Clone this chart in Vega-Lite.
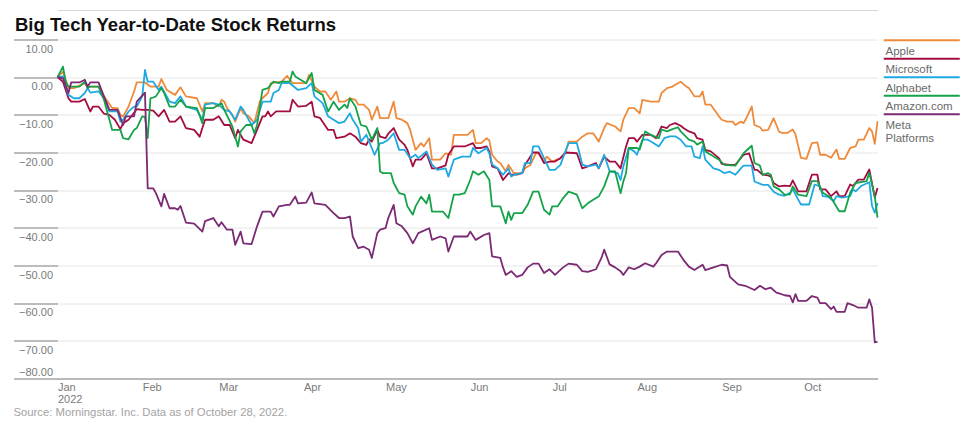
{
"$schema":"https://vega.github.io/schema/vega-lite/v6.json",
"width":820,"height":339,
"autosize":{"type":"none"},
"padding":{"left":57.5,"top":39.5,"right":98.5,"bottom":46.5},
"title":{"text":"Big Tech Year-to-Date Stock Returns","anchor":"start","frame":"group","dx":-42.5,"offset":-39,"font":"Liberation Sans","fontSize":18.5,"fontWeight":"bold","color":"#111111","baseline":"alphabetic"},
"config":{"view":{"stroke":null},"font":"Liberation Sans"},
"data":{"values":[
{"company":"Apple","date":"2022-01-01","ret":0},{"company":"Apple","date":"2022-01-03","ret":1.5},{"company":"Apple","date":"2022-01-05","ret":-2.9},{"company":"Apple","date":"2022-01-07","ret":-2.9},{"company":"Apple","date":"2022-01-11","ret":-1.6},{"company":"Apple","date":"2022-01-12","ret":-2.5},{"company":"Apple","date":"2022-01-16","ret":-2.5},{"company":"Apple","date":"2022-01-18","ret":-5.1},{"company":"Apple","date":"2022-01-21","ret":-8.2},{"company":"Apple","date":"2022-01-23","ret":-8.2},{"company":"Apple","date":"2022-01-24","ret":-10},{"company":"Apple","date":"2022-01-25","ret":-10.4},{"company":"Apple","date":"2022-01-27","ret":-7.8},{"company":"Apple","date":"2022-01-29","ret":-3.8},{"company":"Apple","date":"2022-01-30","ret":-1.4},{"company":"Apple","date":"2022-02-02","ret":-1.4},{"company":"Apple","date":"2022-02-04","ret":-2.5},{"company":"Apple","date":"2022-02-07","ret":-2.5},{"company":"Apple","date":"2022-02-08","ret":-0.5},{"company":"Apple","date":"2022-02-10","ret":-3.4},{"company":"Apple","date":"2022-02-13","ret":-4.7},{"company":"Apple","date":"2022-02-15","ret":-2.7},{"company":"Apple","date":"2022-02-17","ret":-5.1},{"company":"Apple","date":"2022-02-21","ret":-5.6},{"company":"Apple","date":"2022-02-23","ret":-9.1},{"company":"Apple","date":"2022-02-24","ret":-6.9},{"company":"Apple","date":"2022-02-27","ret":-6.9},{"company":"Apple","date":"2022-03-01","ret":-7.8},{"company":"Apple","date":"2022-03-02","ret":-6},{"company":"Apple","date":"2022-03-03","ret":-6.5},{"company":"Apple","date":"2022-03-04","ret":-8.2},{"company":"Apple","date":"2022-03-06","ret":-10},{"company":"Apple","date":"2022-03-07","ret":-11.8},{"company":"Apple","date":"2022-03-09","ret":-8.2},{"company":"Apple","date":"2022-03-10","ret":-9.6},{"company":"Apple","date":"2022-03-12","ret":-10.4},{"company":"Apple","date":"2022-03-14","ret":-12.2},{"company":"Apple","date":"2022-03-16","ret":-6.5},{"company":"Apple","date":"2022-03-17","ret":-5.6},{"company":"Apple","date":"2022-03-19","ret":-4.2},{"company":"Apple","date":"2022-03-20","ret":-1.6},{"company":"Apple","date":"2022-03-22","ret":-1.4},{"company":"Apple","date":"2022-03-24","ret":-1.2},{"company":"Apple","date":"2022-03-26","ret":0.35},{"company":"Apple","date":"2022-03-28","ret":-1.6},{"company":"Apple","date":"2022-04-02","ret":-1.6},{"company":"Apple","date":"2022-04-03","ret":0.6},{"company":"Apple","date":"2022-04-05","ret":-2.5},{"company":"Apple","date":"2022-04-07","ret":-3.8},{"company":"Apple","date":"2022-04-09","ret":-3.8},{"company":"Apple","date":"2022-04-11","ret":-6},{"company":"Apple","date":"2022-04-13","ret":-3.8},{"company":"Apple","date":"2022-04-14","ret":-6.5},{"company":"Apple","date":"2022-04-16","ret":-6.5},{"company":"Apple","date":"2022-04-18","ret":-5.6},{"company":"Apple","date":"2022-04-20","ret":-6},{"company":"Apple","date":"2022-04-21","ret":-7.3},{"company":"Apple","date":"2022-04-23","ret":-7.3},{"company":"Apple","date":"2022-04-25","ret":-8.7},{"company":"Apple","date":"2022-04-26","ret":-11.3},{"company":"Apple","date":"2022-04-28","ret":-7.8},{"company":"Apple","date":"2022-04-29","ret":-10.9},{"company":"Apple","date":"2022-05-02","ret":-10.9},{"company":"Apple","date":"2022-05-04","ret":-6.5},{"company":"Apple","date":"2022-05-05","ret":-10.9},{"company":"Apple","date":"2022-05-07","ret":-11.3},{"company":"Apple","date":"2022-05-09","ret":-12.2},{"company":"Apple","date":"2022-05-10","ret":-14},{"company":"Apple","date":"2022-05-12","ret":-19.3},{"company":"Apple","date":"2022-05-14","ret":-17.5},{"company":"Apple","date":"2022-05-15","ret":-18.4},{"company":"Apple","date":"2022-05-17","ret":-16.2},{"company":"Apple","date":"2022-05-18","ret":-21.9},{"company":"Apple","date":"2022-05-21","ret":-21.9},{"company":"Apple","date":"2022-05-23","ret":-20.2},{"company":"Apple","date":"2022-05-25","ret":-20.6},{"company":"Apple","date":"2022-05-26","ret":-15.3},{"company":"Apple","date":"2022-05-31","ret":-15.3},{"company":"Apple","date":"2022-06-02","ret":-14},{"company":"Apple","date":"2022-06-03","ret":-17.5},{"company":"Apple","date":"2022-06-05","ret":-17.5},{"company":"Apple","date":"2022-06-07","ret":-16.2},{"company":"Apple","date":"2022-06-08","ret":-16.8},{"company":"Apple","date":"2022-06-09","ret":-20.6},{"company":"Apple","date":"2022-06-11","ret":-22.4},{"company":"Apple","date":"2022-06-12","ret":-22.8},{"company":"Apple","date":"2022-06-14","ret":-25},{"company":"Apple","date":"2022-06-15","ret":-23.3},{"company":"Apple","date":"2022-06-17","ret":-25.5},{"company":"Apple","date":"2022-06-20","ret":-25.5},{"company":"Apple","date":"2022-06-21","ret":-24.2},{"company":"Apple","date":"2022-06-23","ret":-23.3},{"company":"Apple","date":"2022-06-25","ret":-20.2},{"company":"Apple","date":"2022-06-26","ret":-20.2},{"company":"Apple","date":"2022-06-28","ret":-22.4},{"company":"Apple","date":"2022-06-29","ret":-21.1},{"company":"Apple","date":"2022-07-01","ret":-22.4},{"company":"Apple","date":"2022-07-04","ret":-21.5},{"company":"Apple","date":"2022-07-06","ret":-19.7},{"company":"Apple","date":"2022-07-07","ret":-17.1},{"company":"Apple","date":"2022-07-10","ret":-17.1},{"company":"Apple","date":"2022-07-12","ret":-15.8},{"company":"Apple","date":"2022-07-14","ret":-14.9},{"company":"Apple","date":"2022-07-16","ret":-14.9},{"company":"Apple","date":"2022-07-18","ret":-17.1},{"company":"Apple","date":"2022-07-20","ret":-13.5},{"company":"Apple","date":"2022-07-21","ret":-12.2},{"company":"Apple","date":"2022-07-24","ret":-13.1},{"company":"Apple","date":"2022-07-26","ret":-14.4},{"company":"Apple","date":"2022-07-27","ret":-11.3},{"company":"Apple","date":"2022-07-29","ret":-8.2},{"company":"Apple","date":"2022-07-31","ret":-8.2},{"company":"Apple","date":"2022-08-02","ret":-9.6},{"company":"Apple","date":"2022-08-03","ret":-6},{"company":"Apple","date":"2022-08-06","ret":-6.5},{"company":"Apple","date":"2022-08-09","ret":-6.5},{"company":"Apple","date":"2022-08-10","ret":-4.2},{"company":"Apple","date":"2022-08-12","ret":-2.9},{"company":"Apple","date":"2022-08-14","ret":-2.5},{"company":"Apple","date":"2022-08-15","ret":-2},{"company":"Apple","date":"2022-08-17","ret":-1.2},{"company":"Apple","date":"2022-08-19","ret":-2.5},{"company":"Apple","date":"2022-08-20","ret":-2.9},{"company":"Apple","date":"2022-08-22","ret":-5.1},{"company":"Apple","date":"2022-08-24","ret":-5.1},{"company":"Apple","date":"2022-08-25","ret":-3.8},{"company":"Apple","date":"2022-08-26","ret":-7.3},{"company":"Apple","date":"2022-08-28","ret":-7.3},{"company":"Apple","date":"2022-08-31","ret":-10.4},{"company":"Apple","date":"2022-09-01","ret":-11.3},{"company":"Apple","date":"2022-09-03","ret":-11.8},{"company":"Apple","date":"2022-09-05","ret":-11.8},{"company":"Apple","date":"2022-09-06","ret":-12.7},{"company":"Apple","date":"2022-09-08","ret":-11.8},{"company":"Apple","date":"2022-09-09","ret":-12.2},{"company":"Apple","date":"2022-09-10","ret":-10.9},{"company":"Apple","date":"2022-09-12","ret":-7.8},{"company":"Apple","date":"2022-09-13","ret":-12.7},{"company":"Apple","date":"2022-09-15","ret":-13.3},{"company":"Apple","date":"2022-09-16","ret":-14.2},{"company":"Apple","date":"2022-09-18","ret":-14},{"company":"Apple","date":"2022-09-20","ret":-10.9},{"company":"Apple","date":"2022-09-22","ret":-14.5},{"company":"Apple","date":"2022-09-23","ret":-14.8},{"company":"Apple","date":"2022-09-25","ret":-14.8},{"company":"Apple","date":"2022-09-27","ret":-13.9},{"company":"Apple","date":"2022-09-28","ret":-15.2},{"company":"Apple","date":"2022-09-30","ret":-21.4},{"company":"Apple","date":"2022-10-02","ret":-21.7},{"company":"Apple","date":"2022-10-04","ret":-17.5},{"company":"Apple","date":"2022-10-06","ret":-17.3},{"company":"Apple","date":"2022-10-07","ret":-20.6},{"company":"Apple","date":"2022-10-09","ret":-20.6},{"company":"Apple","date":"2022-10-11","ret":-21.4},{"company":"Apple","date":"2022-10-13","ret":-19.2},{"company":"Apple","date":"2022-10-14","ret":-21.7},{"company":"Apple","date":"2022-10-16","ret":-21.7},{"company":"Apple","date":"2022-10-18","ret":-18.8},{"company":"Apple","date":"2022-10-20","ret":-18.4},{"company":"Apple","date":"2022-10-21","ret":-16.6},{"company":"Apple","date":"2022-10-23","ret":-16.6},{"company":"Apple","date":"2022-10-25","ret":-13.5},{"company":"Apple","date":"2022-10-26","ret":-14.4},{"company":"Apple","date":"2022-10-27","ret":-17.7},{"company":"Apple","date":"2022-10-28","ret":-11.7},
{"company":"Microsoft","date":"2022-01-01","ret":0},{"company":"Microsoft","date":"2022-01-03","ret":-1.2},{"company":"Microsoft","date":"2022-01-05","ret":-5.6},{"company":"Microsoft","date":"2022-01-06","ret":-6.5},{"company":"Microsoft","date":"2022-01-09","ret":-6.5},{"company":"Microsoft","date":"2022-01-11","ret":-5.8},{"company":"Microsoft","date":"2022-01-13","ret":-9.1},{"company":"Microsoft","date":"2022-01-14","ret":-7.8},{"company":"Microsoft","date":"2022-01-16","ret":-7.8},{"company":"Microsoft","date":"2022-01-18","ret":-9.7},{"company":"Microsoft","date":"2022-01-20","ret":-10},{"company":"Microsoft","date":"2022-01-22","ret":-11.3},{"company":"Microsoft","date":"2022-01-24","ret":-13.8},{"company":"Microsoft","date":"2022-01-25","ret":-12.2},{"company":"Microsoft","date":"2022-01-27","ret":-11.3},{"company":"Microsoft","date":"2022-01-30","ret":-8.5},{"company":"Microsoft","date":"2022-02-01","ret":-8.7},{"company":"Microsoft","date":"2022-02-03","ret":-8.7},{"company":"Microsoft","date":"2022-02-05","ret":-8.9},{"company":"Microsoft","date":"2022-02-07","ret":-10.4},{"company":"Microsoft","date":"2022-02-09","ret":-8.7},{"company":"Microsoft","date":"2022-02-11","ret":-11.8},{"company":"Microsoft","date":"2022-02-13","ret":-11.8},{"company":"Microsoft","date":"2022-02-15","ret":-10.4},{"company":"Microsoft","date":"2022-02-17","ret":-13.5},{"company":"Microsoft","date":"2022-02-20","ret":-14},{"company":"Microsoft","date":"2022-02-22","ret":-15.8},{"company":"Microsoft","date":"2022-02-23","ret":-13.5},{"company":"Microsoft","date":"2022-02-24","ret":-11.3},{"company":"Microsoft","date":"2022-02-27","ret":-11.3},{"company":"Microsoft","date":"2022-03-01","ret":-10.4},{"company":"Microsoft","date":"2022-03-03","ret":-12.7},{"company":"Microsoft","date":"2022-03-05","ret":-12.7},{"company":"Microsoft","date":"2022-03-07","ret":-16.2},{"company":"Microsoft","date":"2022-03-08","ret":-14},{"company":"Microsoft","date":"2022-03-10","ret":-16.6},{"company":"Microsoft","date":"2022-03-13","ret":-17.5},{"company":"Microsoft","date":"2022-03-15","ret":-14},{"company":"Microsoft","date":"2022-03-17","ret":-10.4},{"company":"Microsoft","date":"2022-03-18","ret":-10.4},{"company":"Microsoft","date":"2022-03-19","ret":-9.1},{"company":"Microsoft","date":"2022-03-20","ret":-10.4},{"company":"Microsoft","date":"2022-03-22","ret":-9.1},{"company":"Microsoft","date":"2022-03-27","ret":-9.1},{"company":"Microsoft","date":"2022-03-28","ret":-6},{"company":"Microsoft","date":"2022-03-30","ret":-7.8},{"company":"Microsoft","date":"2022-04-02","ret":-7.6},{"company":"Microsoft","date":"2022-04-04","ret":-6.5},{"company":"Microsoft","date":"2022-04-05","ret":-10.4},{"company":"Microsoft","date":"2022-04-07","ret":-10.8},{"company":"Microsoft","date":"2022-04-10","ret":-14},{"company":"Microsoft","date":"2022-04-12","ret":-14},{"company":"Microsoft","date":"2022-04-13","ret":-16.2},{"company":"Microsoft","date":"2022-04-16","ret":-15.8},{"company":"Microsoft","date":"2022-04-18","ret":-14.9},{"company":"Microsoft","date":"2022-04-20","ret":-15.8},{"company":"Microsoft","date":"2022-04-22","ret":-17.5},{"company":"Microsoft","date":"2022-04-24","ret":-18},{"company":"Microsoft","date":"2022-04-25","ret":-16.5},{"company":"Microsoft","date":"2022-04-26","ret":-17.1},{"company":"Microsoft","date":"2022-04-28","ret":-14},{"company":"Microsoft","date":"2022-04-29","ret":-15.8},{"company":"Microsoft","date":"2022-05-01","ret":-16.2},{"company":"Microsoft","date":"2022-05-02","ret":-15},{"company":"Microsoft","date":"2022-05-04","ret":-13.5},{"company":"Microsoft","date":"2022-05-06","ret":-16.6},{"company":"Microsoft","date":"2022-05-08","ret":-18},{"company":"Microsoft","date":"2022-05-09","ret":-19.3},{"company":"Microsoft","date":"2022-05-11","ret":-23.7},{"company":"Microsoft","date":"2022-05-12","ret":-21.9},{"company":"Microsoft","date":"2022-05-14","ret":-21.9},{"company":"Microsoft","date":"2022-05-16","ret":-20.2},{"company":"Microsoft","date":"2022-05-18","ret":-24.2},{"company":"Microsoft","date":"2022-05-20","ret":-24.2},{"company":"Microsoft","date":"2022-05-23","ret":-23.4},{"company":"Microsoft","date":"2022-05-24","ret":-20.6},{"company":"Microsoft","date":"2022-05-26","ret":-18.4},{"company":"Microsoft","date":"2022-05-30","ret":-18.4},{"company":"Microsoft","date":"2022-06-02","ret":-17.5},{"company":"Microsoft","date":"2022-06-03","ret":-18.8},{"company":"Microsoft","date":"2022-06-05","ret":-18.8},{"company":"Microsoft","date":"2022-06-07","ret":-18.4},{"company":"Microsoft","date":"2022-06-08","ret":-19.7},{"company":"Microsoft","date":"2022-06-09","ret":-23.7},{"company":"Microsoft","date":"2022-06-11","ret":-24.2},{"company":"Microsoft","date":"2022-06-13","ret":-27.3},{"company":"Microsoft","date":"2022-06-15","ret":-25.5},{"company":"Microsoft","date":"2022-06-16","ret":-25.9},{"company":"Microsoft","date":"2022-06-18","ret":-25.9},{"company":"Microsoft","date":"2022-06-20","ret":-25.5},{"company":"Microsoft","date":"2022-06-21","ret":-23.3},{"company":"Microsoft","date":"2022-06-24","ret":-20},{"company":"Microsoft","date":"2022-06-26","ret":-20},{"company":"Microsoft","date":"2022-06-28","ret":-22.8},{"company":"Microsoft","date":"2022-06-30","ret":-22.4},{"company":"Microsoft","date":"2022-07-02","ret":-22.4},{"company":"Microsoft","date":"2022-07-04","ret":-21.5},{"company":"Microsoft","date":"2022-07-06","ret":-20},{"company":"Microsoft","date":"2022-07-10","ret":-20.2},{"company":"Microsoft","date":"2022-07-12","ret":-24.2},{"company":"Microsoft","date":"2022-07-14","ret":-23.7},{"company":"Microsoft","date":"2022-07-17","ret":-22.8},{"company":"Microsoft","date":"2022-07-18","ret":-24.2},{"company":"Microsoft","date":"2022-07-20","ret":-21.1},{"company":"Microsoft","date":"2022-07-22","ret":-22.4},{"company":"Microsoft","date":"2022-07-24","ret":-22.4},{"company":"Microsoft","date":"2022-07-26","ret":-24.2},{"company":"Microsoft","date":"2022-07-28","ret":-18.4},{"company":"Microsoft","date":"2022-07-29","ret":-16.2},{"company":"Microsoft","date":"2022-07-31","ret":-16.2},{"company":"Microsoft","date":"2022-08-01","ret":-17.1},{"company":"Microsoft","date":"2022-08-03","ret":-15.3},{"company":"Microsoft","date":"2022-08-06","ret":-15.3},{"company":"Microsoft","date":"2022-08-08","ret":-16.2},{"company":"Microsoft","date":"2022-08-10","ret":-13.1},{"company":"Microsoft","date":"2022-08-12","ret":-13.5},{"company":"Microsoft","date":"2022-08-13","ret":-12.7},{"company":"Microsoft","date":"2022-08-15","ret":-12.2},{"company":"Microsoft","date":"2022-08-17","ret":-12.9},{"company":"Microsoft","date":"2022-08-18","ret":-13.5},{"company":"Microsoft","date":"2022-08-20","ret":-14.4},{"company":"Microsoft","date":"2022-08-22","ret":-14.9},{"company":"Microsoft","date":"2022-08-23","ret":-16.2},{"company":"Microsoft","date":"2022-08-25","ret":-16.6},{"company":"Microsoft","date":"2022-08-26","ret":-19.3},{"company":"Microsoft","date":"2022-08-28","ret":-19.7},{"company":"Microsoft","date":"2022-08-31","ret":-21.5},{"company":"Microsoft","date":"2022-09-01","ret":-23},{"company":"Microsoft","date":"2022-09-04","ret":-23.3},{"company":"Microsoft","date":"2022-09-06","ret":-23.3},{"company":"Microsoft","date":"2022-09-07","ret":-22.4},{"company":"Microsoft","date":"2022-09-09","ret":-20.6},{"company":"Microsoft","date":"2022-09-11","ret":-20.2},{"company":"Microsoft","date":"2022-09-13","ret":-24.6},{"company":"Microsoft","date":"2022-09-14","ret":-24.6},{"company":"Microsoft","date":"2022-09-16","ret":-25.9},{"company":"Microsoft","date":"2022-09-18","ret":-26.1},{"company":"Microsoft","date":"2022-09-19","ret":-26.4},{"company":"Microsoft","date":"2022-09-20","ret":-28.1},{"company":"Microsoft","date":"2022-09-22","ret":-29},{"company":"Microsoft","date":"2022-09-24","ret":-28.8},{"company":"Microsoft","date":"2022-09-26","ret":-28.9},{"company":"Microsoft","date":"2022-09-27","ret":-27.4},{"company":"Microsoft","date":"2022-09-29","ret":-30.3},{"company":"Microsoft","date":"2022-10-02","ret":-30.3},{"company":"Microsoft","date":"2022-10-04","ret":-25.9},{"company":"Microsoft","date":"2022-10-06","ret":-25.9},{"company":"Microsoft","date":"2022-10-07","ret":-29.8},{"company":"Microsoft","date":"2022-10-09","ret":-29.8},{"company":"Microsoft","date":"2022-10-11","ret":-31.6},{"company":"Microsoft","date":"2022-10-13","ret":-30.3},{"company":"Microsoft","date":"2022-10-14","ret":-31.6},{"company":"Microsoft","date":"2022-10-16","ret":-31.6},{"company":"Microsoft","date":"2022-10-18","ret":-28.5},{"company":"Microsoft","date":"2022-10-19","ret":-28.9},{"company":"Microsoft","date":"2022-10-21","ret":-27.2},{"company":"Microsoft","date":"2022-10-23","ret":-27.2},{"company":"Microsoft","date":"2022-10-25","ret":-24.5},{"company":"Microsoft","date":"2022-10-27","ret":-32},{"company":"Microsoft","date":"2022-10-28","ret":-29.4},
{"company":"Alphabet","date":"2022-01-01","ret":0},{"company":"Alphabet","date":"2022-01-03","ret":0.2},{"company":"Alphabet","date":"2022-01-05","ret":-4.7},{"company":"Alphabet","date":"2022-01-07","ret":-5.6},{"company":"Alphabet","date":"2022-01-09","ret":-5.6},{"company":"Alphabet","date":"2022-01-11","ret":-4.2},{"company":"Alphabet","date":"2022-01-12","ret":-2.9},{"company":"Alphabet","date":"2022-01-13","ret":-4.1},{"company":"Alphabet","date":"2022-01-16","ret":-3.8},{"company":"Alphabet","date":"2022-01-18","ret":-5.6},{"company":"Alphabet","date":"2022-01-20","ret":-9.1},{"company":"Alphabet","date":"2022-01-23","ret":-9.1},{"company":"Alphabet","date":"2022-01-24","ret":-11.8},{"company":"Alphabet","date":"2022-01-25","ret":-11.3},{"company":"Alphabet","date":"2022-01-27","ret":-9.1},{"company":"Alphabet","date":"2022-01-29","ret":-7.8},{"company":"Alphabet","date":"2022-01-30","ret":-7.8},{"company":"Alphabet","date":"2022-02-01","ret":-5.1},{"company":"Alphabet","date":"2022-02-02","ret":1.9},{"company":"Alphabet","date":"2022-02-03","ret":-1.2},{"company":"Alphabet","date":"2022-02-05","ret":-1.2},{"company":"Alphabet","date":"2022-02-07","ret":-3.4},{"company":"Alphabet","date":"2022-02-08","ret":-2.5},{"company":"Alphabet","date":"2022-02-11","ret":-6.5},{"company":"Alphabet","date":"2022-02-13","ret":-6.9},{"company":"Alphabet","date":"2022-02-15","ret":-5.1},{"company":"Alphabet","date":"2022-02-17","ret":-7.8},{"company":"Alphabet","date":"2022-02-21","ret":-8.7},{"company":"Alphabet","date":"2022-02-23","ret":-11.3},{"company":"Alphabet","date":"2022-02-24","ret":-7.3},{"company":"Alphabet","date":"2022-02-27","ret":-6.9},{"company":"Alphabet","date":"2022-03-01","ret":-7.3},{"company":"Alphabet","date":"2022-03-03","ret":-8.7},{"company":"Alphabet","date":"2022-03-05","ret":-9.1},{"company":"Alphabet","date":"2022-03-07","ret":-11.3},{"company":"Alphabet","date":"2022-03-09","ret":-7.8},{"company":"Alphabet","date":"2022-03-10","ret":-8.7},{"company":"Alphabet","date":"2022-03-13","ret":-12.7},{"company":"Alphabet","date":"2022-03-15","ret":-11.3},{"company":"Alphabet","date":"2022-03-17","ret":-6.5},{"company":"Alphabet","date":"2022-03-20","ret":-6.5},{"company":"Alphabet","date":"2022-03-21","ret":-4.2},{"company":"Alphabet","date":"2022-03-23","ret":-3.4},{"company":"Alphabet","date":"2022-03-24","ret":-1.6},{"company":"Alphabet","date":"2022-03-27","ret":-1.6},{"company":"Alphabet","date":"2022-03-30","ret":-3.4},{"company":"Alphabet","date":"2022-04-02","ret":-2.9},{"company":"Alphabet","date":"2022-04-04","ret":-1.6},{"company":"Alphabet","date":"2022-04-05","ret":-5.1},{"company":"Alphabet","date":"2022-04-08","ret":-6.9},{"company":"Alphabet","date":"2022-04-10","ret":-10.4},{"company":"Alphabet","date":"2022-04-12","ret":-11.3},{"company":"Alphabet","date":"2022-04-14","ret":-12.2},{"company":"Alphabet","date":"2022-04-16","ret":-11.8},{"company":"Alphabet","date":"2022-04-18","ret":-9.6},{"company":"Alphabet","date":"2022-04-19","ret":-11.3},{"company":"Alphabet","date":"2022-04-21","ret":-13.5},{"company":"Alphabet","date":"2022-04-22","ret":-17.1},{"company":"Alphabet","date":"2022-04-24","ret":-15.3},{"company":"Alphabet","date":"2022-04-27","ret":-20.6},{"company":"Alphabet","date":"2022-04-29","ret":-17.5},{"company":"Alphabet","date":"2022-04-30","ret":-17.5},{"company":"Alphabet","date":"2022-05-02","ret":-16.6},{"company":"Alphabet","date":"2022-05-04","ret":-14.9},{"company":"Alphabet","date":"2022-05-06","ret":-19.3},{"company":"Alphabet","date":"2022-05-08","ret":-19.3},{"company":"Alphabet","date":"2022-05-10","ret":-21.5},{"company":"Alphabet","date":"2022-05-12","ret":-20.6},{"company":"Alphabet","date":"2022-05-13","ret":-21.5},{"company":"Alphabet","date":"2022-05-16","ret":-19.7},{"company":"Alphabet","date":"2022-05-18","ret":-23.2},{"company":"Alphabet","date":"2022-05-20","ret":-24.6},{"company":"Alphabet","date":"2022-05-23","ret":-24.2},{"company":"Alphabet","date":"2022-05-24","ret":-26.4},{"company":"Alphabet","date":"2022-05-26","ret":-21.9},{"company":"Alphabet","date":"2022-05-29","ret":-21.1},{"company":"Alphabet","date":"2022-06-01","ret":-21.1},{"company":"Alphabet","date":"2022-06-02","ret":-18.8},{"company":"Alphabet","date":"2022-06-04","ret":-20.2},{"company":"Alphabet","date":"2022-06-07","ret":-18.8},{"company":"Alphabet","date":"2022-06-08","ret":-20.2},{"company":"Alphabet","date":"2022-06-09","ret":-23.2},{"company":"Alphabet","date":"2022-06-11","ret":-24.2},{"company":"Alphabet","date":"2022-06-13","ret":-25.9},{"company":"Alphabet","date":"2022-06-15","ret":-24.2},{"company":"Alphabet","date":"2022-06-16","ret":-26.4},{"company":"Alphabet","date":"2022-06-17","ret":-25.9},{"company":"Alphabet","date":"2022-06-20","ret":-25.5},{"company":"Alphabet","date":"2022-06-21","ret":-22.8},{"company":"Alphabet","date":"2022-06-23","ret":-22.8},{"company":"Alphabet","date":"2022-06-24","ret":-18.4},{"company":"Alphabet","date":"2022-06-26","ret":-18.4},{"company":"Alphabet","date":"2022-06-28","ret":-21.5},{"company":"Alphabet","date":"2022-06-30","ret":-24.6},{"company":"Alphabet","date":"2022-07-02","ret":-24.6},{"company":"Alphabet","date":"2022-07-04","ret":-23.3},{"company":"Alphabet","date":"2022-07-06","ret":-19.3},{"company":"Alphabet","date":"2022-07-07","ret":-17.5},{"company":"Alphabet","date":"2022-07-10","ret":-17.5},{"company":"Alphabet","date":"2022-07-12","ret":-23.2},{"company":"Alphabet","date":"2022-07-14","ret":-23.7},{"company":"Alphabet","date":"2022-07-17","ret":-23.2},{"company":"Alphabet","date":"2022-07-18","ret":-24.2},{"company":"Alphabet","date":"2022-07-20","ret":-20.6},{"company":"Alphabet","date":"2022-07-22","ret":-25},{"company":"Alphabet","date":"2022-07-25","ret":-25.5},{"company":"Alphabet","date":"2022-07-26","ret":-27.3},{"company":"Alphabet","date":"2022-07-27","ret":-23.7},{"company":"Alphabet","date":"2022-07-29","ret":-18.8},{"company":"Alphabet","date":"2022-07-31","ret":-19.7},{"company":"Alphabet","date":"2022-08-01","ret":-20.6},{"company":"Alphabet","date":"2022-08-03","ret":-16.6},{"company":"Alphabet","date":"2022-08-05","ret":-16.6},{"company":"Alphabet","date":"2022-08-07","ret":-17.5},{"company":"Alphabet","date":"2022-08-09","ret":-18.4},{"company":"Alphabet","date":"2022-08-11","ret":-16.2},{"company":"Alphabet","date":"2022-08-13","ret":-15.7},{"company":"Alphabet","date":"2022-08-15","ret":-15.7},{"company":"Alphabet","date":"2022-08-17","ret":-16.6},{"company":"Alphabet","date":"2022-08-19","ret":-18.4},{"company":"Alphabet","date":"2022-08-21","ret":-18.4},{"company":"Alphabet","date":"2022-08-22","ret":-21.1},{"company":"Alphabet","date":"2022-08-24","ret":-21.5},{"company":"Alphabet","date":"2022-08-25","ret":-18.4},{"company":"Alphabet","date":"2022-08-26","ret":-21.9},{"company":"Alphabet","date":"2022-08-29","ret":-24.2},{"company":"Alphabet","date":"2022-08-31","ret":-24.6},{"company":"Alphabet","date":"2022-09-02","ret":-25.5},{"company":"Alphabet","date":"2022-09-04","ret":-25.1},{"company":"Alphabet","date":"2022-09-06","ret":-25.9},{"company":"Alphabet","date":"2022-09-07","ret":-25.1},{"company":"Alphabet","date":"2022-09-08","ret":-24.2},{"company":"Alphabet","date":"2022-09-09","ret":-23.5},{"company":"Alphabet","date":"2022-09-12","ret":-23.5},{"company":"Alphabet","date":"2022-09-13","ret":-27.7},{"company":"Alphabet","date":"2022-09-16","ret":-28.6},{"company":"Alphabet","date":"2022-09-18","ret":-28.6},{"company":"Alphabet","date":"2022-09-20","ret":-30.4},{"company":"Alphabet","date":"2022-09-22","ret":-31.2},{"company":"Alphabet","date":"2022-09-24","ret":-31.5},{"company":"Alphabet","date":"2022-09-26","ret":-30.7},{"company":"Alphabet","date":"2022-09-27","ret":-29.8},{"company":"Alphabet","date":"2022-09-29","ret":-32.5},{"company":"Alphabet","date":"2022-09-30","ret":-33.8},{"company":"Alphabet","date":"2022-10-03","ret":-33.8},{"company":"Alphabet","date":"2022-10-05","ret":-28.5},{"company":"Alphabet","date":"2022-10-07","ret":-29},{"company":"Alphabet","date":"2022-10-08","ret":-31.6},{"company":"Alphabet","date":"2022-10-10","ret":-31.8},{"company":"Alphabet","date":"2022-10-12","ret":-32.9},{"company":"Alphabet","date":"2022-10-13","ret":-31.6},{"company":"Alphabet","date":"2022-10-15","ret":-32},{"company":"Alphabet","date":"2022-10-18","ret":-31.6},{"company":"Alphabet","date":"2022-10-19","ret":-29.8},{"company":"Alphabet","date":"2022-10-20","ret":-30.3},{"company":"Alphabet","date":"2022-10-22","ret":-28.9},{"company":"Alphabet","date":"2022-10-25","ret":-27.9},{"company":"Alphabet","date":"2022-10-26","ret":-34.2},{"company":"Alphabet","date":"2022-10-27","ret":-36},{"company":"Alphabet","date":"2022-10-28","ret":-33.4},
{"company":"Amazon.com","date":"2022-01-01","ret":0},{"company":"Amazon.com","date":"2022-01-03","ret":2.8},{"company":"Amazon.com","date":"2022-01-04","ret":-1.2},{"company":"Amazon.com","date":"2022-01-05","ret":-2.5},{"company":"Amazon.com","date":"2022-01-09","ret":-2.5},{"company":"Amazon.com","date":"2022-01-11","ret":-1.2},{"company":"Amazon.com","date":"2022-01-12","ret":-2.9},{"company":"Amazon.com","date":"2022-01-13","ret":-2.5},{"company":"Amazon.com","date":"2022-01-16","ret":-2.5},{"company":"Amazon.com","date":"2022-01-18","ret":-6},{"company":"Amazon.com","date":"2022-01-20","ret":-11.3},{"company":"Amazon.com","date":"2022-01-21","ret":-14},{"company":"Amazon.com","date":"2022-01-24","ret":-14},{"company":"Amazon.com","date":"2022-01-25","ret":-16.2},{"company":"Amazon.com","date":"2022-01-27","ret":-16.5},{"company":"Amazon.com","date":"2022-01-29","ret":-14},{"company":"Amazon.com","date":"2022-01-30","ret":-13.5},{"company":"Amazon.com","date":"2022-02-01","ret":-10.4},{"company":"Amazon.com","date":"2022-02-02","ret":-10.6},{"company":"Amazon.com","date":"2022-02-03","ret":-16.2},{"company":"Amazon.com","date":"2022-02-04","ret":-5.6},{"company":"Amazon.com","date":"2022-02-05","ret":-5.4},{"company":"Amazon.com","date":"2022-02-06","ret":-5.1},{"company":"Amazon.com","date":"2022-02-08","ret":-2.9},{"company":"Amazon.com","date":"2022-02-09","ret":-4.2},{"company":"Amazon.com","date":"2022-02-11","ret":-7.8},{"company":"Amazon.com","date":"2022-02-13","ret":-7.8},{"company":"Amazon.com","date":"2022-02-15","ret":-6},{"company":"Amazon.com","date":"2022-02-17","ret":-7.8},{"company":"Amazon.com","date":"2022-02-21","ret":-8.2},{"company":"Amazon.com","date":"2022-02-23","ret":-12.2},{"company":"Amazon.com","date":"2022-02-24","ret":-8.2},{"company":"Amazon.com","date":"2022-02-27","ret":-8.2},{"company":"Amazon.com","date":"2022-03-02","ret":-6.9},{"company":"Amazon.com","date":"2022-03-03","ret":-8.7},{"company":"Amazon.com","date":"2022-03-06","ret":-13.1},{"company":"Amazon.com","date":"2022-03-08","ret":-18.4},{"company":"Amazon.com","date":"2022-03-09","ret":-14.4},{"company":"Amazon.com","date":"2022-03-11","ret":-12.7},{"company":"Amazon.com","date":"2022-03-13","ret":-12.7},{"company":"Amazon.com","date":"2022-03-14","ret":-14.9},{"company":"Amazon.com","date":"2022-03-15","ret":-12.7},{"company":"Amazon.com","date":"2022-03-17","ret":-3.4},{"company":"Amazon.com","date":"2022-03-19","ret":-2.9},{"company":"Amazon.com","date":"2022-03-21","ret":-1.2},{"company":"Amazon.com","date":"2022-03-23","ret":-1.6},{"company":"Amazon.com","date":"2022-03-24","ret":-1.2},{"company":"Amazon.com","date":"2022-03-27","ret":-1.2},{"company":"Amazon.com","date":"2022-03-28","ret":1.5},{"company":"Amazon.com","date":"2022-03-29","ret":0.2},{"company":"Amazon.com","date":"2022-04-02","ret":-1.6},{"company":"Amazon.com","date":"2022-04-04","ret":1.1},{"company":"Amazon.com","date":"2022-04-05","ret":-3.4},{"company":"Amazon.com","date":"2022-04-08","ret":-4.7},{"company":"Amazon.com","date":"2022-04-10","ret":-9.1},{"company":"Amazon.com","date":"2022-04-12","ret":-6.5},{"company":"Amazon.com","date":"2022-04-14","ret":-8.7},{"company":"Amazon.com","date":"2022-04-16","ret":-7.3},{"company":"Amazon.com","date":"2022-04-17","ret":-8.2},{"company":"Amazon.com","date":"2022-04-18","ret":-5.6},{"company":"Amazon.com","date":"2022-04-20","ret":-7.8},{"company":"Amazon.com","date":"2022-04-22","ret":-12.7},{"company":"Amazon.com","date":"2022-04-24","ret":-13.1},{"company":"Amazon.com","date":"2022-04-26","ret":-16.6},{"company":"Amazon.com","date":"2022-04-28","ret":-13.5},{"company":"Amazon.com","date":"2022-04-29","ret":-25},{"company":"Amazon.com","date":"2022-04-30","ret":-25.5},{"company":"Amazon.com","date":"2022-05-03","ret":-25.5},{"company":"Amazon.com","date":"2022-05-04","ret":-28.1},{"company":"Amazon.com","date":"2022-05-06","ret":-30.8},{"company":"Amazon.com","date":"2022-05-08","ret":-31.2},{"company":"Amazon.com","date":"2022-05-09","ret":-34.3},{"company":"Amazon.com","date":"2022-05-11","ret":-36.5},{"company":"Amazon.com","date":"2022-05-12","ret":-34.3},{"company":"Amazon.com","date":"2022-05-14","ret":-31.7},{"company":"Amazon.com","date":"2022-05-16","ret":-33.5},{"company":"Amazon.com","date":"2022-05-17","ret":-31.2},{"company":"Amazon.com","date":"2022-05-18","ret":-35.7},{"company":"Amazon.com","date":"2022-05-22","ret":-35.7},{"company":"Amazon.com","date":"2022-05-24","ret":-37.4},{"company":"Amazon.com","date":"2022-05-26","ret":-31.2},{"company":"Amazon.com","date":"2022-05-28","ret":-31.2},{"company":"Amazon.com","date":"2022-05-30","ret":-30.8},{"company":"Amazon.com","date":"2022-06-01","ret":-27.3},{"company":"Amazon.com","date":"2022-06-02","ret":-25},{"company":"Amazon.com","date":"2022-06-04","ret":-25.9},{"company":"Amazon.com","date":"2022-06-06","ret":-25},{"company":"Amazon.com","date":"2022-06-08","ret":-27.3},{"company":"Amazon.com","date":"2022-06-09","ret":-34.3},{"company":"Amazon.com","date":"2022-06-12","ret":-34.3},{"company":"Amazon.com","date":"2022-06-14","ret":-38.8},{"company":"Amazon.com","date":"2022-06-15","ret":-35.7},{"company":"Amazon.com","date":"2022-06-16","ret":-37.9},{"company":"Amazon.com","date":"2022-06-17","ret":-36.1},{"company":"Amazon.com","date":"2022-06-20","ret":-36.1},{"company":"Amazon.com","date":"2022-06-22","ret":-33.9},{"company":"Amazon.com","date":"2022-06-24","ret":-30.4},{"company":"Amazon.com","date":"2022-06-26","ret":-30.4},{"company":"Amazon.com","date":"2022-06-28","ret":-35.2},{"company":"Amazon.com","date":"2022-06-30","ret":-36.5},{"company":"Amazon.com","date":"2022-07-01","ret":-34.3},{"company":"Amazon.com","date":"2022-07-03","ret":-34.3},{"company":"Amazon.com","date":"2022-07-05","ret":-32.1},{"company":"Amazon.com","date":"2022-07-07","ret":-30.4},{"company":"Amazon.com","date":"2022-07-10","ret":-31.2},{"company":"Amazon.com","date":"2022-07-12","ret":-34.8},{"company":"Amazon.com","date":"2022-07-14","ret":-33.5},{"company":"Amazon.com","date":"2022-07-17","ret":-32.1},{"company":"Amazon.com","date":"2022-07-18","ret":-31.7},{"company":"Amazon.com","date":"2022-07-20","ret":-29},{"company":"Amazon.com","date":"2022-07-22","ret":-25},{"company":"Amazon.com","date":"2022-07-24","ret":-25},{"company":"Amazon.com","date":"2022-07-26","ret":-30.8},{"company":"Amazon.com","date":"2022-07-27","ret":-27.7},{"company":"Amazon.com","date":"2022-07-28","ret":-25.5},{"company":"Amazon.com","date":"2022-07-29","ret":-18.8},{"company":"Amazon.com","date":"2022-08-01","ret":-18.8},{"company":"Amazon.com","date":"2022-08-02","ret":-19.2},{"company":"Amazon.com","date":"2022-08-04","ret":-14.4},{"company":"Amazon.com","date":"2022-08-06","ret":-15.3},{"company":"Amazon.com","date":"2022-08-09","ret":-16.2},{"company":"Amazon.com","date":"2022-08-10","ret":-13.9},{"company":"Amazon.com","date":"2022-08-12","ret":-14.4},{"company":"Amazon.com","date":"2022-08-14","ret":-13.8},{"company":"Amazon.com","date":"2022-08-16","ret":-13.3},{"company":"Amazon.com","date":"2022-08-17","ret":-14.4},{"company":"Amazon.com","date":"2022-08-20","ret":-16.6},{"company":"Amazon.com","date":"2022-08-22","ret":-17.1},{"company":"Amazon.com","date":"2022-08-23","ret":-17.9},{"company":"Amazon.com","date":"2022-08-25","ret":-17.1},{"company":"Amazon.com","date":"2022-08-26","ret":-19.7},{"company":"Amazon.com","date":"2022-08-28","ret":-20.6},{"company":"Amazon.com","date":"2022-08-31","ret":-21.9},{"company":"Amazon.com","date":"2022-09-02","ret":-23.3},{"company":"Amazon.com","date":"2022-09-06","ret":-23.5},{"company":"Amazon.com","date":"2022-09-07","ret":-22.4},{"company":"Amazon.com","date":"2022-09-09","ret":-20.2},{"company":"Amazon.com","date":"2022-09-12","ret":-18.2},{"company":"Amazon.com","date":"2022-09-13","ret":-22.8},{"company":"Amazon.com","date":"2022-09-15","ret":-23.5},{"company":"Amazon.com","date":"2022-09-16","ret":-25.9},{"company":"Amazon.com","date":"2022-09-18","ret":-25.5},{"company":"Amazon.com","date":"2022-09-19","ret":-25.9},{"company":"Amazon.com","date":"2022-09-20","ret":-29},{"company":"Amazon.com","date":"2022-09-22","ret":-29.8},{"company":"Amazon.com","date":"2022-09-24","ret":-31.2},{"company":"Amazon.com","date":"2022-09-26","ret":-31.1},{"company":"Amazon.com","date":"2022-09-27","ret":-29},{"company":"Amazon.com","date":"2022-09-29","ret":-31.2},{"company":"Amazon.com","date":"2022-10-02","ret":-31.6},{"company":"Amazon.com","date":"2022-10-04","ret":-27.6},{"company":"Amazon.com","date":"2022-10-06","ret":-27.6},{"company":"Amazon.com","date":"2022-10-08","ret":-30.7},{"company":"Amazon.com","date":"2022-10-11","ret":-32},{"company":"Amazon.com","date":"2022-10-14","ret":-35.6},{"company":"Amazon.com","date":"2022-10-16","ret":-35.6},{"company":"Amazon.com","date":"2022-10-18","ret":-30.7},{"company":"Amazon.com","date":"2022-10-20","ret":-28.1},{"company":"Amazon.com","date":"2022-10-24","ret":-27.6},{"company":"Amazon.com","date":"2022-10-25","ret":-25.4},{"company":"Amazon.com","date":"2022-10-27","ret":-31.6},{"company":"Amazon.com","date":"2022-10-28","ret":-37.3},
{"company":"Meta Platforms","date":"2022-01-01","ret":0},{"company":"Meta Platforms","date":"2022-01-03","ret":-0.3},{"company":"Meta Platforms","date":"2022-01-05","ret":-4.2},{"company":"Meta Platforms","date":"2022-01-06","ret":-1.4},{"company":"Meta Platforms","date":"2022-01-09","ret":-1.4},{"company":"Meta Platforms","date":"2022-01-11","ret":-0.7},{"company":"Meta Platforms","date":"2022-01-12","ret":-2.5},{"company":"Meta Platforms","date":"2022-01-13","ret":-1.4},{"company":"Meta Platforms","date":"2022-01-16","ret":-1.4},{"company":"Meta Platforms","date":"2022-01-18","ret":-5.1},{"company":"Meta Platforms","date":"2022-01-20","ret":-8.7},{"company":"Meta Platforms","date":"2022-01-23","ret":-8.7},{"company":"Meta Platforms","date":"2022-01-25","ret":-12.7},{"company":"Meta Platforms","date":"2022-01-26","ret":-10.4},{"company":"Meta Platforms","date":"2022-01-29","ret":-10.4},{"company":"Meta Platforms","date":"2022-01-30","ret":-6.5},{"company":"Meta Platforms","date":"2022-02-02","ret":-4.1},{"company":"Meta Platforms","date":"2022-02-03","ret":-29.5},{"company":"Meta Platforms","date":"2022-02-05","ret":-29.5},{"company":"Meta Platforms","date":"2022-02-06","ret":-30.8},{"company":"Meta Platforms","date":"2022-02-08","ret":-34.3},{"company":"Meta Platforms","date":"2022-02-09","ret":-31},{"company":"Meta Platforms","date":"2022-02-11","ret":-34.8},{"company":"Meta Platforms","date":"2022-02-13","ret":-34.8},{"company":"Meta Platforms","date":"2022-02-14","ret":-35.2},{"company":"Meta Platforms","date":"2022-02-15","ret":-34.2},{"company":"Meta Platforms","date":"2022-02-17","ret":-38.6},{"company":"Meta Platforms","date":"2022-02-20","ret":-38.9},{"company":"Meta Platforms","date":"2022-02-23","ret":-41},{"company":"Meta Platforms","date":"2022-02-24","ret":-38.2},{"company":"Meta Platforms","date":"2022-02-27","ret":-37.4},{"company":"Meta Platforms","date":"2022-03-01","ret":-39.6},{"company":"Meta Platforms","date":"2022-03-02","ret":-38.5},{"company":"Meta Platforms","date":"2022-03-04","ret":-40.5},{"company":"Meta Platforms","date":"2022-03-06","ret":-40.5},{"company":"Meta Platforms","date":"2022-03-07","ret":-44.5},{"company":"Meta Platforms","date":"2022-03-09","ret":-41},{"company":"Meta Platforms","date":"2022-03-10","ret":-44.1},{"company":"Meta Platforms","date":"2022-03-13","ret":-44.3},{"company":"Meta Platforms","date":"2022-03-15","ret":-39.6},{"company":"Meta Platforms","date":"2022-03-17","ret":-35.7},{"company":"Meta Platforms","date":"2022-03-20","ret":-35.7},{"company":"Meta Platforms","date":"2022-03-21","ret":-37},{"company":"Meta Platforms","date":"2022-03-23","ret":-34.3},{"company":"Meta Platforms","date":"2022-03-26","ret":-33.9},{"company":"Meta Platforms","date":"2022-03-27","ret":-33.9},{"company":"Meta Platforms","date":"2022-03-29","ret":-31.7},{"company":"Meta Platforms","date":"2022-03-30","ret":-33.5},{"company":"Meta Platforms","date":"2022-04-02","ret":-33.3},{"company":"Meta Platforms","date":"2022-04-04","ret":-30.6},{"company":"Meta Platforms","date":"2022-04-05","ret":-33.5},{"company":"Meta Platforms","date":"2022-04-09","ret":-33.9},{"company":"Meta Platforms","date":"2022-04-12","ret":-36.1},{"company":"Meta Platforms","date":"2022-04-14","ret":-37.4},{"company":"Meta Platforms","date":"2022-04-16","ret":-37.4},{"company":"Meta Platforms","date":"2022-04-18","ret":-37},{"company":"Meta Platforms","date":"2022-04-19","ret":-42.3},{"company":"Meta Platforms","date":"2022-04-21","ret":-45.4},{"company":"Meta Platforms","date":"2022-04-23","ret":-45},{"company":"Meta Platforms","date":"2022-04-25","ret":-45.8},{"company":"Meta Platforms","date":"2022-04-26","ret":-48},{"company":"Meta Platforms","date":"2022-04-28","ret":-41.4},{"company":"Meta Platforms","date":"2022-04-29","ret":-40.5},{"company":"Meta Platforms","date":"2022-05-01","ret":-40.1},{"company":"Meta Platforms","date":"2022-05-02","ret":-37.4},{"company":"Meta Platforms","date":"2022-05-04","ret":-33.9},{"company":"Meta Platforms","date":"2022-05-05","ret":-38.8},{"company":"Meta Platforms","date":"2022-05-07","ret":-39.6},{"company":"Meta Platforms","date":"2022-05-09","ret":-41.4},{"company":"Meta Platforms","date":"2022-05-11","ret":-44.1},{"company":"Meta Platforms","date":"2022-05-12","ret":-42.8},{"company":"Meta Platforms","date":"2022-05-13","ret":-41.4},{"company":"Meta Platforms","date":"2022-05-17","ret":-40.1},{"company":"Meta Platforms","date":"2022-05-18","ret":-43.2},{"company":"Meta Platforms","date":"2022-05-21","ret":-42.3},{"company":"Meta Platforms","date":"2022-05-23","ret":-42.8},{"company":"Meta Platforms","date":"2022-05-24","ret":-46.3},{"company":"Meta Platforms","date":"2022-05-26","ret":-42.3},{"company":"Meta Platforms","date":"2022-05-31","ret":-42.3},{"company":"Meta Platforms","date":"2022-06-01","ret":-41},{"company":"Meta Platforms","date":"2022-06-03","ret":-43.2},{"company":"Meta Platforms","date":"2022-06-06","ret":-41.9},{"company":"Meta Platforms","date":"2022-06-08","ret":-41.4},{"company":"Meta Platforms","date":"2022-06-09","ret":-47.6},{"company":"Meta Platforms","date":"2022-06-12","ret":-48},{"company":"Meta Platforms","date":"2022-06-13","ret":-50.5},{"company":"Meta Platforms","date":"2022-06-14","ret":-52.5},{"company":"Meta Platforms","date":"2022-06-16","ret":-51.5},{"company":"Meta Platforms","date":"2022-06-18","ret":-53},{"company":"Meta Platforms","date":"2022-06-20","ret":-52.5},{"company":"Meta Platforms","date":"2022-06-22","ret":-50.5},{"company":"Meta Platforms","date":"2022-06-24","ret":-49.5},{"company":"Meta Platforms","date":"2022-06-26","ret":-49.5},{"company":"Meta Platforms","date":"2022-06-28","ret":-52},{"company":"Meta Platforms","date":"2022-06-30","ret":-51},{"company":"Meta Platforms","date":"2022-07-02","ret":-52.5},{"company":"Meta Platforms","date":"2022-07-05","ret":-50.5},{"company":"Meta Platforms","date":"2022-07-07","ret":-49.5},{"company":"Meta Platforms","date":"2022-07-10","ret":-49.8},{"company":"Meta Platforms","date":"2022-07-12","ret":-51.5},{"company":"Meta Platforms","date":"2022-07-14","ret":-51.7},{"company":"Meta Platforms","date":"2022-07-17","ret":-51},{"company":"Meta Platforms","date":"2022-07-19","ret":-48},{"company":"Meta Platforms","date":"2022-07-20","ret":-45.8},{"company":"Meta Platforms","date":"2022-07-22","ret":-49.7},{"company":"Meta Platforms","date":"2022-07-24","ret":-50.5},{"company":"Meta Platforms","date":"2022-07-26","ret":-51.5},{"company":"Meta Platforms","date":"2022-07-27","ret":-52.5},{"company":"Meta Platforms","date":"2022-07-29","ret":-50.5},{"company":"Meta Platforms","date":"2022-07-31","ret":-51},{"company":"Meta Platforms","date":"2022-08-02","ret":-50.3},{"company":"Meta Platforms","date":"2022-08-04","ret":-49.4},{"company":"Meta Platforms","date":"2022-08-07","ret":-50.3},{"company":"Meta Platforms","date":"2022-08-08","ret":-49.4},{"company":"Meta Platforms","date":"2022-08-10","ret":-47.2},{"company":"Meta Platforms","date":"2022-08-12","ret":-46.3},{"company":"Meta Platforms","date":"2022-08-13","ret":-46.3},{"company":"Meta Platforms","date":"2022-08-16","ret":-46.3},{"company":"Meta Platforms","date":"2022-08-18","ret":-48.5},{"company":"Meta Platforms","date":"2022-08-20","ret":-50.3},{"company":"Meta Platforms","date":"2022-08-22","ret":-51.2},{"company":"Meta Platforms","date":"2022-08-25","ret":-49.8},{"company":"Meta Platforms","date":"2022-08-26","ret":-51.2},{"company":"Meta Platforms","date":"2022-08-29","ret":-50.5},{"company":"Meta Platforms","date":"2022-09-01","ret":-49.8},{"company":"Meta Platforms","date":"2022-09-03","ret":-50},{"company":"Meta Platforms","date":"2022-09-04","ret":-53},{"company":"Meta Platforms","date":"2022-09-07","ret":-55},{"company":"Meta Platforms","date":"2022-09-10","ret":-55.5},{"company":"Meta Platforms","date":"2022-09-13","ret":-56.5},{"company":"Meta Platforms","date":"2022-09-15","ret":-55.4},{"company":"Meta Platforms","date":"2022-09-17","ret":-56.3},{"company":"Meta Platforms","date":"2022-09-19","ret":-55.9},{"company":"Meta Platforms","date":"2022-09-21","ret":-57.2},{"company":"Meta Platforms","date":"2022-09-22","ret":-57.4},{"company":"Meta Platforms","date":"2022-09-24","ret":-57.9},{"company":"Meta Platforms","date":"2022-09-26","ret":-58.1},{"company":"Meta Platforms","date":"2022-09-27","ret":-59.8},{"company":"Meta Platforms","date":"2022-09-28","ret":-57.6},{"company":"Meta Platforms","date":"2022-09-29","ret":-59.4},{"company":"Meta Platforms","date":"2022-10-02","ret":-59.4},{"company":"Meta Platforms","date":"2022-10-04","ret":-58.1},{"company":"Meta Platforms","date":"2022-10-06","ret":-58.5},{"company":"Meta Platforms","date":"2022-10-07","ret":-60},{"company":"Meta Platforms","date":"2022-10-09","ret":-60},{"company":"Meta Platforms","date":"2022-10-11","ret":-61.6},{"company":"Meta Platforms","date":"2022-10-12","ret":-60.9},{"company":"Meta Platforms","date":"2022-10-13","ret":-62.3},{"company":"Meta Platforms","date":"2022-10-16","ret":-62.3},{"company":"Meta Platforms","date":"2022-10-17","ret":-60},{"company":"Meta Platforms","date":"2022-10-19","ret":-60.5},{"company":"Meta Platforms","date":"2022-10-21","ret":-61.2},{"company":"Meta Platforms","date":"2022-10-24","ret":-61.2},{"company":"Meta Platforms","date":"2022-10-25","ret":-59},{"company":"Meta Platforms","date":"2022-10-26","ret":-61.2},{"company":"Meta Platforms","date":"2022-10-27","ret":-70.4},{"company":"Meta Platforms","date":"2022-10-28","ret":-70.3}
]},
"resolve":{"axis":{"x":"independent"}},
"layer":[
{"mark":{"type":"line","strokeWidth":1.8,"strokeJoin":"round"},
 "encoding":{
  "x":{"field":"date","type":"temporal",
   "scale":{"type":"utc","domain":[{"year":2022,"month":1,"date":1,"utc":true},{"year":2022,"month":10,"date":28,"utc":true}]},
   "axis":{"values":[{"year":2022,"month":1,"date":1,"utc":true},{"year":2022,"month":2,"date":1,"utc":true},{"year":2022,"month":3,"date":1,"utc":true},{"year":2022,"month":4,"date":1,"utc":true},{"year":2022,"month":5,"date":1,"utc":true},{"year":2022,"month":6,"date":1,"utc":true},{"year":2022,"month":7,"date":1,"utc":true},{"year":2022,"month":8,"date":1,"utc":true},{"year":2022,"month":9,"date":1,"utc":true},{"year":2022,"month":10,"date":1,"utc":true}],
    "labelExpr":"utcmonth(datum.value) == 0 ? ['Jan', '2022'] : utcFormat(datum.value, '%b')",
    "labelAlign":"left","labelBaseline":"top","labelPadding":3,"labelFlush":false,"labelOverlap":false,"labelLineHeight":12,
    "labelFont":"Liberation Sans","labelFontSize":11,"labelColor":"#7a7a7a",
    "ticks":false,"grid":false,"domainColor":"#a6a6a6","domainWidth":1.5,
    "title":"Source: Morningstar. Inc. Data as of October 28, 2022.","titleAnchor":"start","titleAlign":"left","titleX":-44.5,"titleY":34,"titleBaseline":"middle","titleFont":"Liberation Sans","titleFontSize":11.3,"titleFontWeight":"normal","titleColor":"#a3a3a3"}},
  "y":{"field":"ret","type":"quantitative","scale":{"domain":[-80,10],"nice":false,"zero":false},
   "axis":{"values":[10,0,-10,-20,-30,-40,-50,-60,-70,-80],"format":".2f","domain":false,"ticks":true,"tickSize":44,"tickColor":"#a6a6a6","tickWidth":1.5,
    "grid":true,"gridColor":"#e6e6e6","gridWidth":1,
    "labelAlign":"right",
    "labelBaseline":{"condition":{"test":"datum.value == -80","value":"bottom"},"value":"top"},
    "labelOffset":{"condition":{"test":"datum.value == -80","value":-1},"value":3.5},
    "labelPadding":-39,"labelFlush":false,"labelOverlap":false,
    "labelFont":"Liberation Sans","labelFontSize":11,"labelColor":"#7a7a7a","title":null}},
  "color":{"field":"company","type":"nominal",
   "scale":{"domain":["Apple","Microsoft","Alphabet","Amazon.com","Meta Platforms"],"range":["#ee8a3a","#a30d42","#1fa9e1","#15a34a","#7b2a74"]},
   "legend":{"orient":"right","offset":-7.5,"padding":6.5,"title":null,"symbolType":"M0,-11.5L76,-11.5","symbolSize":4,"symbolStrokeWidth":2,"labelOffset":-4,
    "labelFont":"Liberation Sans","labelFontSize":11.5,"labelColor":"#6a6a6a","rowPadding":-3.5,"labelLimit":200,
    "labelExpr":"datum.label == 'Meta Platforms' ? ['Meta', 'Platforms'] : datum.label"}}
 }},
{"transform":[{"filter":"datum.ret == 0 && datum.company == 'Apple'"}],
 "mark":{"type":"rule","opacity":0},
 "encoding":{"x":{"field":"date","type":"temporal","axis":{"orient":"top","offset":29.5,"domain":true,"domainColor":"#d6d6d6","domainWidth":1,"labels":false,"ticks":false,"grid":false,"title":null}}}}
]
}
